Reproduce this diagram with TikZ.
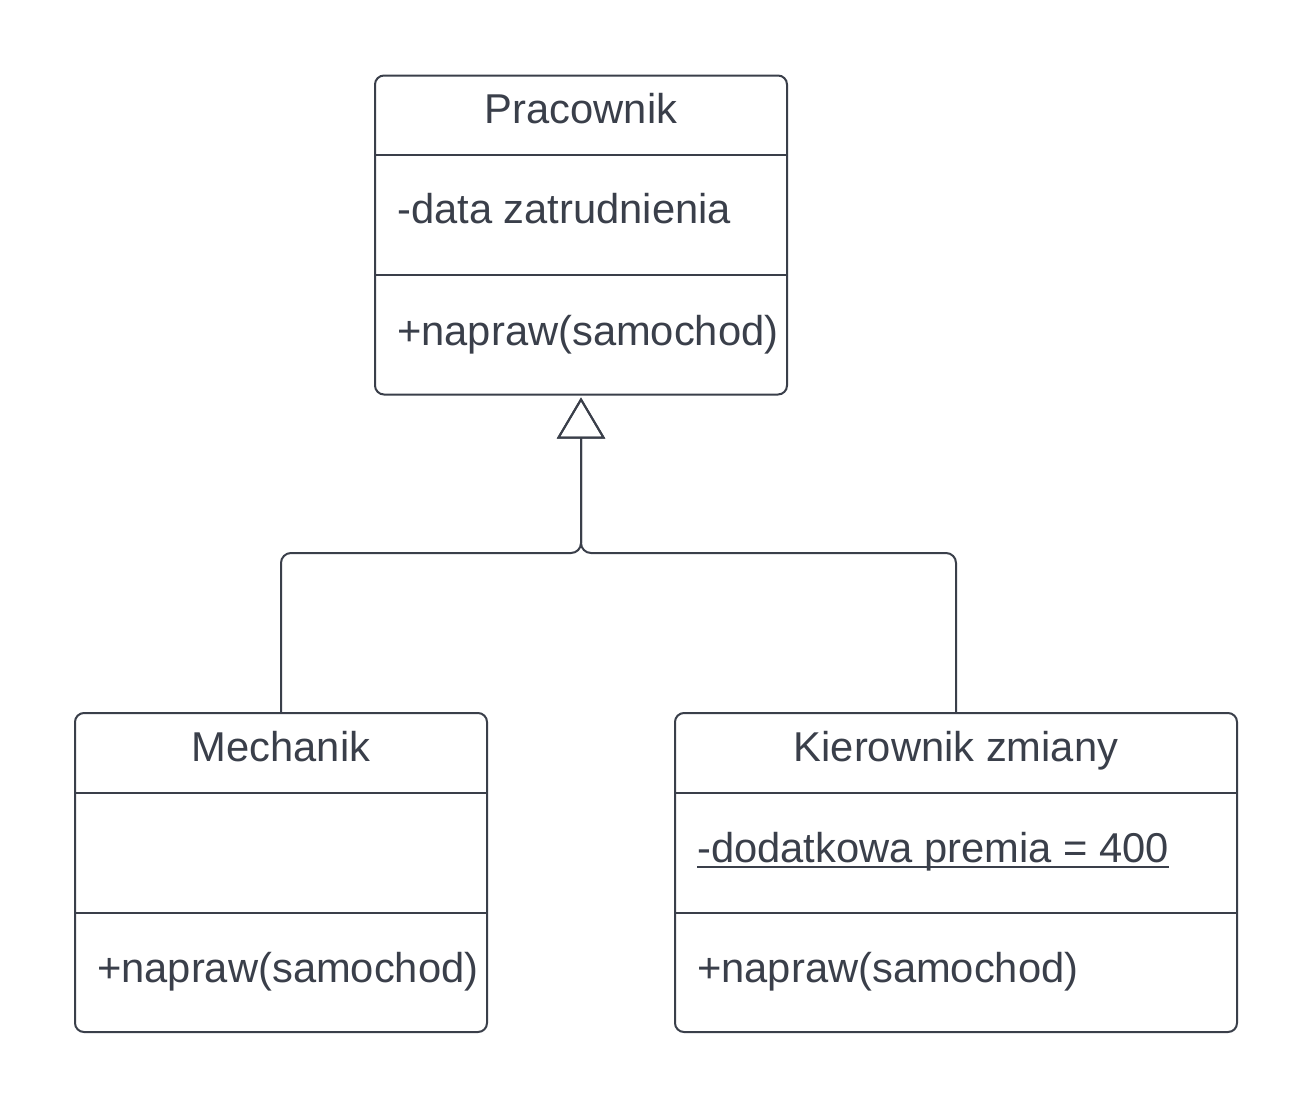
\documentclass[tikz,border=0pt]{standalone}
\usepackage{fontspec}
\setmainfont{Liberation Sans}
\usetikzlibrary{arrows.meta}
\definecolor{ink}{RGB}{58,63,74}
\begin{document}
\begin{tikzpicture}[x=1pt,y=-1pt,
  umlbox/.style={draw=ink,line width=2pt,rounded corners=9pt,minimum width=#1,inner sep=0pt,minimum height=319pt},
  umltext/.style={text=ink,inner sep=0pt,font=\fontsize{41.7}{50}\selectfont},
  sep/.style={draw=ink,line width=2pt},
  conn/.style={draw=ink,line width=2pt,rounded corners=10pt},
  gen/.style={-{Triangle[open,length=41pt,width=48pt,line width=2pt]}}]
\useasboundingbox[fill=white] (0,0) rectangle (1313,1108);
% boxes
\node[umlbox=412pt] (pr) at (581,235) {};
\node[umlbox=412pt] (mech) at (281,872.5) {};
\node[umlbox=562pt] (kz) at (956,872.5) {};
% separators
\draw[sep] (375,155) -- (787,155);
\draw[sep] (375,275) -- (787,275);
\draw[sep] (75,793) -- (487,793);
\draw[sep] (75,913) -- (487,913);
\draw[sep] (675,793) -- (1237,793);
\draw[sep] (675,913) -- (1237,913);
% texts
\node[umltext,anchor=base] (prT) at (581,123) {Pracownik};
\node[umltext,anchor=base west] (prA) at (397,223) {-data zatrudnienia};
\node[umltext,anchor=base west] (prM) at (397,345) {+napraw(samochod)};
\node[umltext,anchor=base] (mechT) at (281,761) {Mechanik};
\node[umltext,anchor=base west] (mechM) at (97,982) {+napraw(samochod)};
\node[umltext,anchor=base] (kzT) at (956,761) {Kierownik zmiany};
\node[umltext,anchor=base west] (kzA) at (697,862) {-dodatkowa premia = 400};
\draw[ink,line width=2pt] ([yshift=-5pt]kzA.base west) -- ([yshift=-5pt]kzA.base east);
\node[umltext,anchor=base west] (kzM) at (697,982) {+napraw(samochod)};
% connectors
\coordinate (j) at (581,553);
\draw[conn,gen] (mech.north) |- (j) -- ([yshift=-2pt]pr.south);
\draw[conn,gen] (kz.north) |- (j) -- ([yshift=-2pt]pr.south);
\end{tikzpicture}
\end{document}
